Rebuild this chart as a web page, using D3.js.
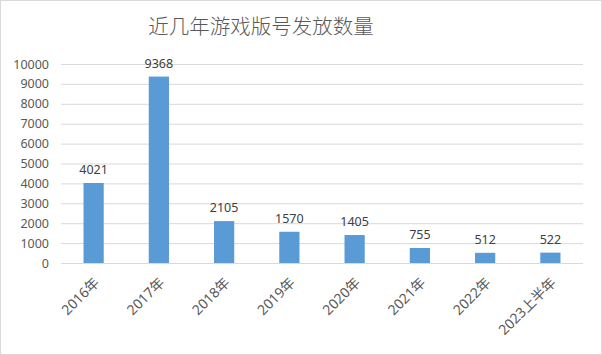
<!DOCTYPE html>
<html><head><meta charset="utf-8">
<script src="https://cdn.jsdelivr.net/npm/d3@7"></script>
<style>body{margin:0;background:#fff}svg{display:block}text{font-family:"Noto Sans","Noto Sans CJK SC",sans-serif}</style>
</head><body><svg id="c" width="602" height="355"></svg>
<script>
const categories = ["2016年","2017年","2018年","2019年","2020年","2021年","2022年","2023上半年"];
const values = [4021, 9368, 2105, 1570, 1405, 755, 512, 522];
const yTicks = [0,1000,2000,3000,4000,5000,6000,7000,8000,9000,10000];
const title = "近几年游戏版号发放数量";

const svg = d3.select("#c");
const W = 602, H = 355;
const m = {left:61, right:19, top:64, bottom:92};
svg.append("rect").attr("x",0.5).attr("y",0.5).attr("width",W-1).attr("height",H-1)
  .attr("fill","#fff").attr("stroke","#d9d9d9");

const x = d3.scaleBand().domain(categories).range([m.left, W-m.right]).paddingInner(0.69).paddingOuter(0.345);
const y = d3.scaleLinear().domain([0,10000]).range([H-m.bottom, m.top]);

svg.append("text").attr("x",261).attr("y",34).attr("text-anchor","middle")
  .attr("font-size",20.5).attr("font-weight",300).attr("fill","#595959")
  .style("font-family","'Noto Sans CJK SC',sans-serif").text(title);

const ya = svg.append("g").attr("transform",`translate(${m.left},0)`)
  .call(d3.axisLeft(y).tickValues(yTicks).tickSize(-(W-m.left-m.right)).tickPadding(12).tickFormat(d3.format("d")));
ya.select(".domain").remove();
ya.selectAll(".tick line").attr("stroke","#d9d9d9");
ya.selectAll(".tick text").attr("font-size",12.5).attr("fill","#595959");

svg.append("g").selectAll("rect").data(values).join("rect")
  .attr("x",(d,i)=>x(categories[i])).attr("width",x.bandwidth())
  .attr("y",d=>y(d)).attr("height",d=>y(0)-y(d)).attr("fill","#5b9bd5");

svg.append("g").selectAll("text").data(values).join("text")
  .attr("x",(d,i)=>x(categories[i])+x.bandwidth()/2).attr("y",d=>y(d)-9)
  .attr("text-anchor","middle").attr("font-size",12.5).attr("fill","#404040").text(d=>d);

const xa = svg.append("g").attr("transform",`translate(0,${H-m.bottom})`)
  .call(d3.axisBottom(x).tickSize(0).tickPadding(0));
xa.select(".domain").remove();
xa.selectAll(".tick text").attr("font-size",14).attr("fill","#595959")
  .attr("text-anchor","end").attr("dy","0.35em")
  .attr("transform","translate(3,17) rotate(-45)");
</script></body></html>
